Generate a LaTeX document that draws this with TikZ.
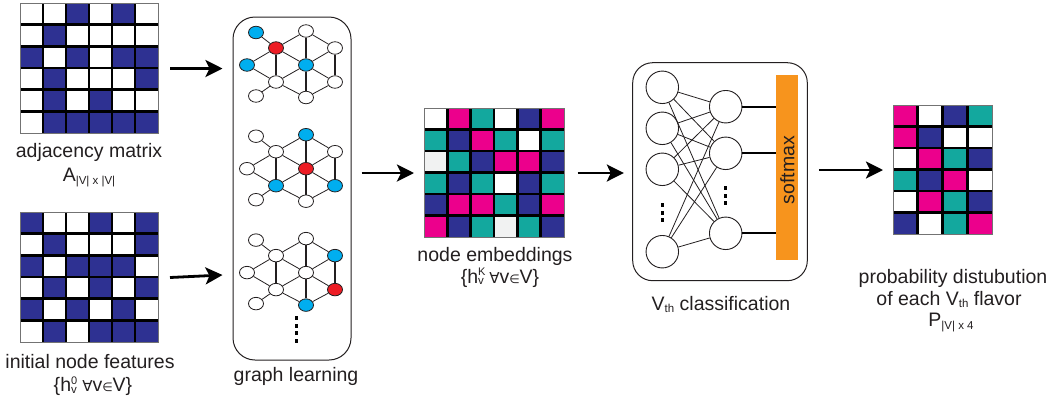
\documentclass[tikz,border=0pt]{standalone}
\usepackage{fontspec}
\setmainfont{Liberation Sans}
\newfontfamily\symfont{DejaVu Sans}
\usetikzlibrary{shapes.geometric,arrows.meta}
\definecolor{colN}{HTML}{2E3192}
\definecolor{colM}{HTML}{EC008C}
\definecolor{colT}{HTML}{13A89E}
\definecolor{colL}{HTML}{F1F2F2}
\definecolor{colW}{HTML}{FFFFFF}
\definecolor{orng}{HTML}{F7941D}
\definecolor{nblue}{HTML}{00AEEF}
\definecolor{nred}{HTML}{ED1C24}
\definecolor{txt}{HTML}{231F20}
\newcommand{\lowsub}[1]{\raisebox{-2.5pt}{\fontsize{11.5}{12}\selectfont #1}}
\newcommand{\hsupsub}[1]{h\rlap{\raisebox{7.5pt}{\fontsize{11}{11}\selectfont #1}}\raisebox{-1.5pt}{\fontsize{11.5}{12}\selectfont v}}
\newcommand{\vsetlabel}[1]{\{\hsupsub{#1}\ {\symfont\fontsize{15}{15}\selectfont ∀}v{\symfont\fontsize{12}{12}\selectfont ∈}V\}}
% matrix: #1 name, #2 x0, #3 y0, #4 cell w, #5 cell h, #6 ncols, #7 rows
\newcommand{\mtx}[7]{%
  \foreach \row [count=\r from 0] in {#7} {
    \foreach \c [count=\k from 0] in \row
      \fill[col\c] ({#2+\k*#4},{#3+\r*#5}) rectangle ++(#4,#5);
  }
  \pgfmathtruncatemacro\ncm{#6-1}
  \foreach \k in {1,...,\ncm} \draw[gridl] ({#2+\k*#4},#3) -- ++(0,{6*#5});
  \foreach \r in {1,...,5} \draw[gridl] (#2,{#3+\r*#5}) -- ++({#6*#4},0);
  \node[mbox, minimum width={#6*#4*1pt}, minimum height={6*#5*1pt}] (#1) at (#2,#3) {};
}
% graph: #1 prefix, #2 y offset, #3 colour styles
\newcommand{\gph}[3]{%
  \begin{scope}
    \tikzset{#3}
    \foreach \n/\x/\y in {a/256/32.5,b/276/48,c/306/31,d/335/48,e/247/65,f/306/65,g/276/82,h/335/82,i/256/96,j/306/97.5}
      \node[gn, gc-\n/.try] (#1\n) at (\x,{\y+#2}) {};
    \foreach \u/\v in {a/b,b/c,b/e,b/f,c/d,d/f,f/h,f/g,g/e,g/i,g/j,h/j}
      \draw[ge] (#1\u) -- (#1\v);
    \foreach \u/\v in {b/g,c/f,d/h,f/j}
      \draw[ge, line width=1.6pt] (#1\u) -- (#1\v);
  \end{scope}
}
\begin{document}
\begin{tikzpicture}[x=1pt,y=-1pt,
  gridl/.style={black, line width=2.8pt},
  mbox/.style={draw=black!55, line width=1pt, inner sep=0pt, anchor=north west},
  gn/.style={ellipse, draw=txt, line width=0.8pt, fill=white, minimum width=15pt, minimum height=12.5pt, inner sep=0pt},
  ge/.style={draw=txt, line width=0.8pt},
  panel/.style={draw=txt, line width=1pt, inner sep=0pt},
  nc/.style={circle, draw=txt, line width=0.9pt, fill=white, minimum size=32.5pt, inner sep=0pt},
  nnl/.style={draw=txt, line width=0.8pt},
  arr/.style={draw=black, line width=2.8pt, -{Stealth[length=17pt, width=17pt, inset=4pt]}},
  lbl/.style={font=\fontsize{19.5}{23}\selectfont, text=txt, inner sep=0pt, anchor=base},
  dotsq/.style={fill=black}
]
\useasboundingbox (0,0) rectangle (1059,400);

% ---- input matrices
\mtx{adj}{20}{3}{23}{21.667}{6}{{W,W,N,W,N,W},{W,N,W,W,W,W},{N,W,N,W,N,N},{W,N,W,W,W,N},{W,N,W,N,W,W},{W,N,N,N,N,N}}
\mtx{feat}{20}{212}{23}{21.667}{6}{{N,W,W,N,W,N},{W,N,W,W,W,N},{N,W,N,N,N,W},{W,N,W,N,W,N},{N,W,N,W,N,W},{W,N,W,N,N,N}}
\node[lbl] (adjl) at (89,157) {adjacency matrix};
\node[lbl] (adjs) at (89,181.7) {A\lowsub{|V| x |V|}};
\node[lbl] (featl) at (90,368) {initial node features};
\node[lbl] (feats) at (93,391.5) {\vsetlabel{0}};

% ---- graph learning panel
\node[panel, rounded corners=22pt, minimum width=118pt, minimum height=343pt] (gl) at (292,188.5) {};
\gph{p}{0}{gc-a/.style={fill=nblue}, gc-b/.style={fill=nred}, gc-e/.style={fill=nblue}, gc-f/.style={fill=nblue}}
\gph{q}{103.7}{gc-c/.style={fill=nblue}, gc-f/.style={fill=nred}, gc-g/.style={fill=nblue}, gc-h/.style={fill=nblue}}
\gph{r}{207.6}{gc-d/.style={fill=nblue}, gc-h/.style={fill=nred}, gc-j/.style={fill=nblue}}
\foreach \yy in {318,325.5,333,340.5} \fill[dotsq] (294.5,\yy-2) rectangle ++(3,4);
\node[lbl] (gll) at (296,381) {graph learning};

% ---- embeddings
\mtx{emb}{424}{108}{23.33}{21.5}{6}{{W,M,T,W,N,M},{T,N,M,T,W,T},{L,T,N,M,M,N},{T,N,T,W,N,T},{N,M,M,T,N,M},{M,N,T,L,T,N}}
\node[lbl] (embl) at (495,261.7) {node embeddings};
\node[lbl] (embs) at (500,283) {\vsetlabel{K}};

% ---- classification network
\node[panel, rounded corners=20pt, minimum width=174.6pt, minimum height=218pt] (nn) at (720,171.7) {};
\node[nc] (i1) at (662.3,87.3) {};
\node[nc] (i2) at (662.3,128.3) {};
\node[nc] (i3) at (662.3,169.3) {};
\node[nc] (i4) at (662.3,251.7) {};
\node[nc] (h1) at (725.7,106.7) {};
\node[nc] (h2) at (725.7,153.3) {};
\node[nc] (h3) at (725.7,233.3) {};
\foreach \i in {1,...,4} \foreach \h in {1,2,3} \draw[nnl] (i\i) -- (h\h);
\node[fill=orng, inner sep=0pt, minimum width=21.7pt, minimum height=185pt] (sm) at (786.8,167.5) {};
\node[lbl, anchor=center, rotate=90] (smt) at (787.5,170) {softmax};
\foreach \h in {1,2,3} \draw[line width=1.8pt, black] (h\h.east) -- (h\h.east -| sm.west);
\foreach \yy in {205,212.5,220} \fill[dotsq] (660.8,\yy-2) rectangle ++(3,4);
\foreach \yy in {188.3,195.5,202.7} \fill[dotsq] (724.2,\yy-2) rectangle ++(3,4);
\node[lbl] (nnl) at (721,310) {V\lowsub{th} classification};

% ---- output matrix
\mtx{out}{893}{105}{24.7}{21.5}{4}{{M,W,N,T},{M,N,W,W},{W,M,T,N},{T,N,M,W},{W,M,T,N},{N,W,T,M}}
\node[lbl] (outl1) at (953,283.3) {probability distubution};
\node[lbl] (outl2) at (949,305) {of each V\lowsub{th} flavor};
\node[lbl] (outl3) at (951,326.7) {P\lowsub{|V| x 4}};

% ---- arrows
\draw[arr] ([xshift=11pt]adj.east) -- ([xshift=-10pt]adj.east -| gl.west);
\draw[arr] ([xshift=11pt]feat.east) -- ([xshift=-10pt,yshift=2.5pt]feat.east -| gl.west);
\draw[arr] ([xshift=10pt]gl.east |- emb.west) -- ([xshift=-10pt]emb.west);
\draw[arr] ([xshift=12.7pt]emb.east) -- ([xshift=-8.4pt]emb.east -| nn.west);
\draw[arr] ([xshift=11pt]nn.east |- out.west) -- ([xshift=-10pt]out.west);
\end{tikzpicture}
\end{document}
